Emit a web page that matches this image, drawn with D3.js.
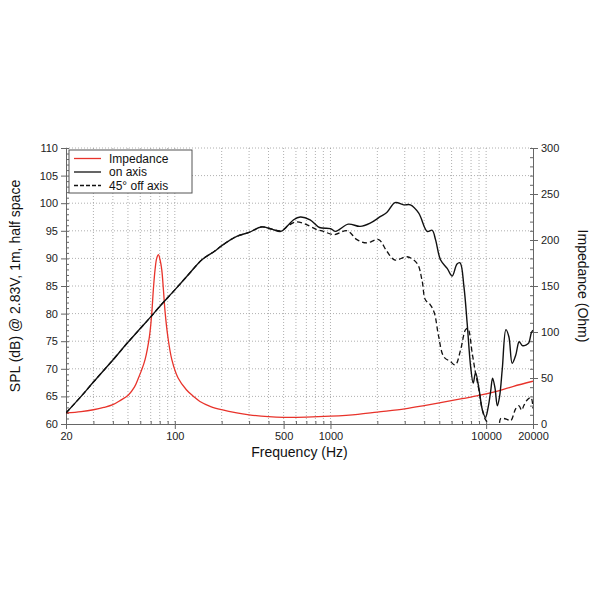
<!DOCTYPE html>
<html>
<head>
<meta charset="utf-8">
<script src="https://cdn.jsdelivr.net/npm/d3@7"></script>
<style>
  body { margin: 0; background: #fff; }
  text { font-family: "Liberation Sans", Arial, Helvetica, sans-serif; }
  .grid line { stroke: #9a9a9a; stroke-dasharray: 1,2; stroke-width: 0.8; }
  .axis path, .axis line { stroke: #666; }
  .axis text { fill: #222; font-size: 11px; }
</style>
</head>
<body>
<div id="chart"></div>
<script>
// svg dimensions
let svgWidth = 600,
  svgHeight = 600;

// frequency response, on axis (Hz / dB)
let onAxisFreq = [20, 25, 30, 40, 50, 60, 70, 80, 100, 120, 150, 180, 200, 250, 300, 360, 420, 480, 530, 580, 640, 740, 850, 1000, 1080, 1300, 1550, 1800, 2100, 2300, 2600, 2950, 3260, 3690, 4180, 4500, 4730, 5100, 5620, 6050, 6500, 6800, 7200, 7550, 7950, 8260, 8550, 8980, 9450, 9900, 10300, 10700, 11000, 11400, 11800, 12200, 12700, 13400, 14000, 14700, 15500, 16300, 17100, 18000, 18800, 19500, 20000];
let onAxisSpl = [62.0, 65.0, 67.6, 71.6, 74.8, 77.3, 79.4, 81.3, 84.3, 86.8, 89.8, 91.3, 92.3, 94.0, 94.7, 95.7, 95.3, 94.9, 95.9, 97.0, 97.5, 97.0, 95.6, 95.4, 94.9, 96.2, 95.8, 96.4, 97.6, 98.3, 100.1, 99.7, 99.7, 98.2, 94.9, 95.1, 93.4, 89.7, 88.2, 86.8, 89.0, 89.2, 84.9, 78.3, 70.4, 67.4, 69.3, 66.5, 62.6, 61.2, 63.0, 66.0, 68.3, 66.5, 63.3, 65.0, 70.0, 77.1, 75.8, 71.0, 72.5, 74.9, 74.2, 74.3, 74.7, 76.5, 77.0];

// frequency response, 45 deg off axis (Hz / dB)
let offAxisFreq = [20, 25, 30, 40, 50, 60, 70, 80, 100, 120, 150, 180, 200, 250, 300, 360, 420, 480, 540, 600, 690, 820, 900, 1050, 1280, 1480, 1710, 2040, 2300, 2600, 3100, 3600, 3870, 4070, 4380, 4650, 4950, 5340, 5900, 6340, 6850, 7380, 7630, 8140, 8550, 8980, 9440, 9900, 10400, 11000, 11800, 12400, 13000, 13700, 14400, 15500, 16260, 16900, 17500, 18400, 19400, 20000];
let offAxisSpl = [62.0, 65.0, 67.6, 71.6, 74.8, 77.3, 79.4, 81.3, 84.3, 86.8, 89.8, 91.3, 92.3, 94.0, 94.7, 95.7, 95.3, 95.0, 96.0, 96.6, 96.2, 95.2, 94.9, 94.3, 95.0, 93.4, 92.8, 93.4, 91.3, 89.7, 90.3, 89.1, 86.1, 82.5, 81.6, 80.1, 75.9, 72.2, 71.3, 70.7, 73.4, 77.1, 77.3, 72.8, 69.2, 66.2, 62.6, 60.8, 60.0, 57.0, 57.0, 61.0, 61.0, 60.8, 60.6, 62.8, 63.3, 62.5, 63.4, 64.4, 64.8, 62.8];

// impedance (Hz / Ohm)
let impFreq = [20, 25, 30, 35, 40, 45, 50, 55, 58.4, 61, 64.4, 68.7, 71.1, 72.8, 74.7, 76.5, 78.5, 80.5, 82.4, 84.5, 86.7, 90.2, 95.7, 105, 119, 132, 145, 170, 200, 250, 300, 400, 500, 700, 1000, 1500, 2000, 3000, 4000, 5000, 7000, 9000, 12000, 15000, 20000];
let impOhm = [12, 13.5, 15.5, 18, 21, 26, 31, 40, 50, 58, 70, 95, 120, 146, 168, 180, 184, 178, 168, 146, 121, 95, 70, 50, 37, 30, 24.5, 19, 15.5, 12, 10, 8, 7.3, 7.5, 8.5, 10.5, 13, 16.5, 20, 23, 27.5, 31, 36, 41, 46.5];

// tick labels
let splTicks = [60, 65, 70, 75, 80, 85, 90, 95, 100, 105, 110];
let ohmTicks = [0, 50, 100, 150, 200, 250, 300];
let freqTicks = [20, 100, 500, 1000, 10000, 20000];

let legendLabels = ["Impedance", "on axis", "45\u00b0 off axis"];

// chart area
let plot = { left: 66, right: 533, top: 148, bottom: 424 };

let svg = d3
  .select("#chart")
  .append("svg")
  .attr("width", svgWidth)
  .attr("height", svgHeight);

// scales
let xScale = d3.scaleLog().domain([20, 20000]).range([plot.left, plot.right]);
let yScale = d3.scaleLinear().domain([60, 110]).range([plot.bottom, plot.top]);
let zScale = d3.scaleLinear().domain([0, 300]).range([plot.bottom, plot.top]);

// minor log positions 20..20000
let freqMinor = [];
[10, 100, 1000, 10000].forEach((dec) => {
  for (let m = 1; m <= 9; m++) {
    let f = dec * m;
    if (f >= 20 && f <= 20000) freqMinor.push(f);
  }
});
freqMinor.push(20000);

// grid
let grid = svg.append("g").attr("class", "grid");
grid
  .selectAll(".vgrid")
  .data(freqMinor.filter((f) => f > 20 && f < 20000))
  .enter()
  .append("line")
  .attr("x1", (d) => xScale(d))
  .attr("x2", (d) => xScale(d))
  .attr("y1", plot.top)
  .attr("y2", plot.bottom);
grid
  .selectAll(".hgrid")
  .data(splTicks.filter((v) => v > 60))
  .enter()
  .append("line")
  .attr("x1", plot.left)
  .attr("x2", plot.right)
  .attr("y1", (d) => yScale(d))
  .attr("y2", (d) => yScale(d));

// axes
let leftAxis = svg
  .append("g")
  .attr("class", "axis")
  .attr("transform", `translate(${plot.left},0)`)
  .call(d3.axisLeft(yScale).tickValues(splTicks).tickSize(5).tickPadding(3));
svg
  .append("g")
  .attr("class", "axis")
  .attr("transform", `translate(${plot.left},0)`)
  .call(d3.axisRight(yScale).tickValues(d3.range(60, 111, 1)).tickSize(3).tickFormat(""));

svg
  .append("g")
  .attr("class", "axis")
  .attr("transform", `translate(${plot.right},0)`)
  .call(d3.axisRight(zScale).tickValues(ohmTicks).tickSize(5).tickPadding(3));
svg
  .append("g")
  .attr("class", "axis")
  .attr("transform", `translate(${plot.right},0)`)
  .call(d3.axisLeft(zScale).tickValues(d3.range(0, 301, 10)).tickSize(3).tickFormat(""));

svg
  .append("g")
  .attr("class", "axis")
  .attr("transform", `translate(0,${plot.bottom})`)
  .call(d3.axisBottom(xScale).tickValues(freqTicks).tickFormat(d3.format("d")).tickSize(5).tickPadding(3));
svg
  .append("g")
  .attr("class", "axis")
  .attr("transform", `translate(0,${plot.bottom})`)
  .call(d3.axisTop(xScale).tickValues(freqMinor).tickSize(3).tickFormat(""));

svg.selectAll(".axis path.domain").attr("stroke-width", 1);

// clip
svg
  .append("clipPath")
  .attr("id", "plotClip")
  .append("rect")
  .attr("x", plot.left)
  .attr("y", plot.top)
  .attr("width", plot.right - plot.left)
  .attr("height", plot.bottom - plot.top);

let curves = svg.append("g").attr("clip-path", "url(#plotClip)");

let splLine = d3
  .line()
  .x((d) => xScale(d[0]))
  .y((d) => yScale(d[1]))
  .curve(d3.curveCatmullRom.alpha(0.5));

let impLine = d3
  .line()
  .x((d) => xScale(d[0]))
  .y((d) => zScale(d[1]))
  .curve(d3.curveCatmullRom.alpha(0.5));

curves
  .append("path")
  .datum(impFreq.map((f, i) => [f, impOhm[i]]))
  .attr("d", impLine)
  .attr("fill", "none")
  .attr("stroke", "#e8332b")
  .attr("stroke-width", 1.3);

curves
  .append("path")
  .datum(offAxisFreq.map((f, i) => [f, offAxisSpl[i]]))
  .attr("d", splLine)
  .attr("fill", "none")
  .attr("stroke", "#111")
  .attr("stroke-width", 1.3)
  .attr("stroke-dasharray", "5,3");

curves
  .append("path")
  .datum(onAxisFreq.map((f, i) => [f, onAxisSpl[i]]))
  .attr("d", splLine)
  .attr("fill", "none")
  .attr("stroke", "#111")
  .attr("stroke-width", 1.4);

// axis titles
svg
  .append("text")
  .attr("x", (plot.left + plot.right) / 2)
  .attr("y", 457)
  .attr("text-anchor", "middle")
  .attr("font-size", "14px")
  .attr("fill", "#111")
  .text("Frequency (Hz)");

svg
  .append("text")
  .attr("transform", `translate(20, ${(plot.top + plot.bottom) / 2}) rotate(-90)`)
  .attr("text-anchor", "middle")
  .attr("font-size", "14px")
  .attr("fill", "#111")
  .text("SPL (dB) @ 2.83V, 1m, half space");

svg
  .append("text")
  .attr("transform", `translate(578, ${(plot.top + plot.bottom) / 2}) rotate(90)`)
  .attr("text-anchor", "middle")
  .attr("font-size", "14px")
  .attr("fill", "#111")
  .text("Impedance (Ohm)");

// legend
let legend = svg.append("g").attr("transform", "translate(69,150)");
legend
  .append("rect")
  .attr("width", 123)
  .attr("height", 43)
  .attr("fill", "#fff")
  .attr("stroke", "#555")
  .attr("stroke-width", 1);

let legendStyles = [
  { color: "#e8332b", dash: null },
  { color: "#111", dash: null },
  { color: "#111", dash: "4,2" },
];

legendLabels.forEach((label, i) => {
  let yy = 8.5 + i * 13.5;
  legend
    .append("line")
    .attr("x1", 5)
    .attr("x2", 32)
    .attr("y1", yy)
    .attr("y2", yy)
    .attr("stroke", legendStyles[i].color)
    .attr("stroke-width", 1.3)
    .attr("stroke-dasharray", legendStyles[i].dash);
  legend
    .append("text")
    .attr("x", 40)
    .attr("y", yy + 4)
    .attr("font-size", "12px")
    .attr("fill", "#111")
    .text(label);
});
</script>
</body>
</html>
